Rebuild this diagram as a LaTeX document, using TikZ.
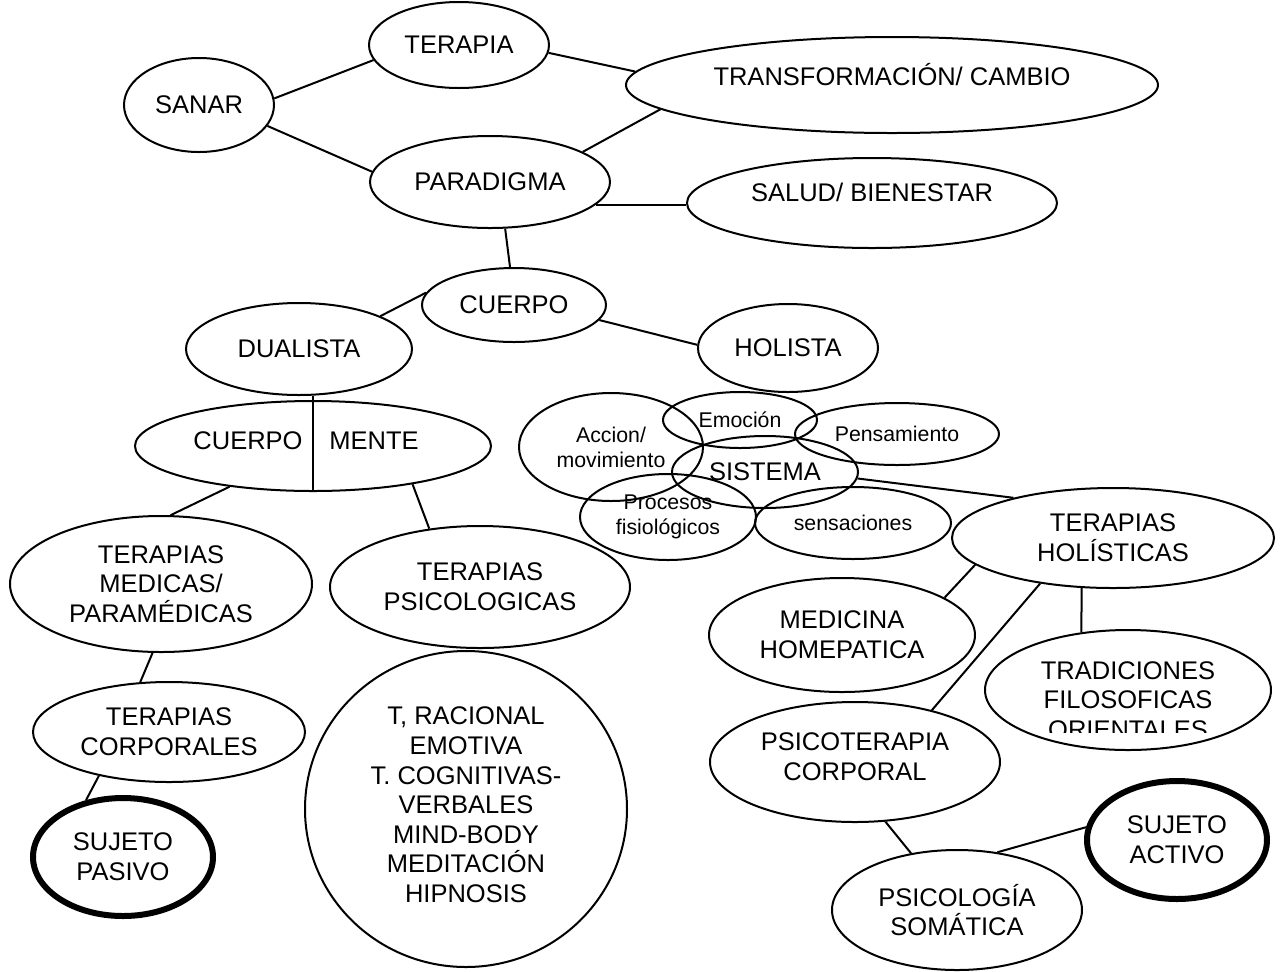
\documentclass[tikz,border=0pt]{standalone}
\usepackage{fontspec}
\setmainfont{Liberation Sans}
\usetikzlibrary{shapes.geometric}

\begin{document}
\begin{tikzpicture}[x=0.5pt,y=-0.5pt,line width=1pt,
  bubble/.style 2 args={ellipse,draw,inner sep=0pt,align=center,
    minimum width=#1pt,minimum height=#2pt,font=\fontsize{12.75}{14.8}\selectfont},
  tiny/.style={font=\fontsize{10.65}{12.5}\selectfont},
  strong/.style={line width=3pt},
  plain/.style={align=center,inner sep=0pt,font=\fontsize{12.75}{14.8}\selectfont}]
  \useasboundingbox (0,0) rectangle (1281,971);

  \node[bubble={75}{47}] (sanar) at (199,105) {SANAR};
  \node[bubble={90}{43}] (terapia) at (459,45) {TERAPIA};
  \node[bubble={266}{48}] (transf) at (892,85) {};
  \node[plain] (transftext) at (892,75) {TRANSFORMACIÓN/ CAMBIO};
  \node[bubble={120}{46}] (paradigma) at (490,182) {PARADIGMA};
  \node[bubble={185}{45}] (salud) at (872,203) {};
  \node[plain] (saludtext) at (872,192) {SALUD/ BIENESTAR};
  \node[bubble={92}{37}] (cuerpo) at (514,305) {CUERPO};
  \node[bubble={113}{46}] (dualista) at (299,349) {DUALISTA};
  \node[bubble={90}{44}] (holista) at (788,348) {HOLISTA};

  \node[bubble={178}{45}] (cm) at (313,446) {};
  \node[plain] (cmleft) at (248,441) {CUERPO};
  \node[plain] (cmright) at (374,441) {MENTE};

  \node[bubble={92}{54},tiny] (accion) at (611,447) {Accion/\\movimiento};
  \node[bubble={77}{28},tiny] (emocion) at (740,420) {Emoción};
  \node[bubble={102}{31},tiny] (pensamiento) at (897,434) {Pensamiento};
  \node[bubble={93}{36}] (sistema) at (765,472) {SISTEMA};
  \node[bubble={88}{43},tiny] (procesos) at (668,517) {Procesos\\fisiológicos};
  \node[bubble={98}{36},tiny] (sensaciones) at (853,523) {sensaciones};

  \node[bubble={161}{50}] (holisticas) at (1113,538) {TERAPIAS\\HOLÍSTICAS};
  \node[bubble={151}{68}] (medicas) at (161,584) {TERAPIAS\\MEDICAS/\\PARAMÉDICAS};
  \node[bubble={150}{61}] (psicologicas) at (480,587) {TERAPIAS\\PSICOLOGICAS};
  \node[bubble={133}{57}] (medicina) at (842,635) {MEDICINA\\HOMEPATICA};
  \node[bubble={143}{60}] (tradiciones) at (1128,690) {};
  \begin{scope}
    \clip (985,620) rectangle (1275,732);
    \node[plain] (tradtext) at (1128,700) {TRADICIONES\\FILOSOFICAS\\ORIENTALES};
  \end{scope}
  \node[bubble={136}{50}] (corporales) at (169,732) {TERAPIAS\\CORPORALES};
  \node[bubble={90}{59},strong] (pasivo) at (123,857) {SUJETO\\PASIVO};
  \node[bubble={161}{158}] (racional) at (466,809) {};
  \node[plain] (racionaltext) at (466,805)
    {T, RACIONAL\\EMOTIVA\\T. COGNITIVAS-\\VERBALES\\MIND-BODY\\MEDITACIÓN\\HIPNOSIS};
  \node[bubble={145}{60}] (psicoterapia) at (855,762) {};
  \node[plain] (psicotext) at (855,757) {PSICOTERAPIA\\CORPORAL};
  \node[bubble={125}{60}] (somatica) at (957,910) {PSICOLOGÍA\\SOMÁTICA};
  \node[bubble={90}{59},strong] (activo) at (1177,840) {SUJETO\\ACTIVO};

  % conexiones
  \draw (sanar.5) -- (terapia.190);
  \draw (sanar.343) -- (paradigma.175);
  \draw (terapia.355) -- (transf.177);
  \draw (paradigma.18) -- (transf.186);
  \draw (paradigma.348) -- (salud.west |- paradigma.348);
  \draw (paradigma.288) -- (cuerpo.96);
  \draw (cuerpo.172) -- (dualista.22);
  \draw (cuerpo.350) -- (holista.178);
  \draw (dualista.south -| cm.north) -- (cm.south);
  \draw (cm.206) -- (medicas.82);
  \draw (cm.339) -- (psicologicas.131);
  \draw (sistema.356) -- (holisticas.158);
  \draw (medicas.263) -- (corporales.120);
  \draw (corporales.212) -- (pasivo.123);
  \draw (holisticas.191) -- (medicina.20);
  \draw (holisticas.212) -- (psicoterapia.34);
  \draw (holisticas.238) -- (tradiciones.129);
  \draw (psicoterapia.297) -- (somatica.129);
  \draw (somatica.55) -- (activo.172);
\end{tikzpicture}
\end{document}
